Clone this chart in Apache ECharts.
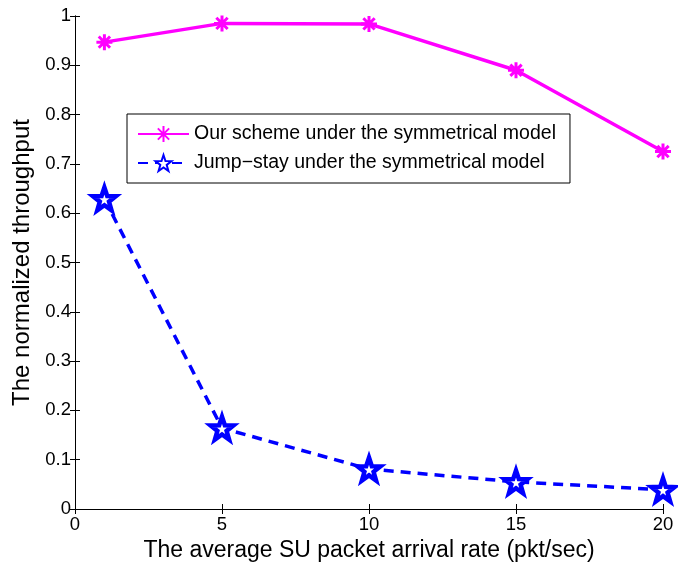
<!DOCTYPE html>
<html><head><meta charset="utf-8">
<script src="https://cdn.jsdelivr.net/npm/echarts@6/dist/echarts.min.js"></script>
<style>html,body{margin:0;padding:0;background:#fff}#c{width:678px;height:567px}</style>
</head><body><div id="c"></div>
<script>
const xValues = [1, 5, 10, 15, 20];
const ourScheme = [0.947, 0.985, 0.984, 0.890, 0.725];
const jumpStay = [0.629, 0.164, 0.081, 0.055, 0.039];
const seriesNames = ['Our scheme under the symmetrical model', 'Jump\u2212stay under the symmetrical model'];
const xTicks = [0, 5, 10, 15, 20];
const yTicks = [0, 0.1, 0.2, 0.3, 0.4, 0.5, 0.6, 0.7, 0.8, 0.9, 1];

const FONT = 'Liberation Sans';
const star = 'path://M0,-10 L2.35,-3.24 L9.51,-3.09 L3.8,1.24 L5.88,8.09 L0,4 L-5.88,8.09 L-3.8,1.24 L-9.51,-3.09 L-2.35,-3.24 Z';
const asterisk = 'path://M0,-10 L0,10 M-10,0 L10,0 M-7.07,-7.07 L7.07,7.07 M-7.07,7.07 L7.07,-7.07';

const chart = echarts.init(document.getElementById('c'), null, {renderer: 'canvas'});
const axisCommon = {
  axisLine: {show: true, lineStyle: {color: '#000', width: 1}},
  axisTick: {show: true, inside: true, length: 5, lineStyle: {color: '#000'}},
  splitLine: {show: false}
};
chart.setOption({
  animation: false,
  backgroundColor: '#fff',
  grid: {left: 75, right: 15, top: 16, bottom: 58},
  legend: {
    orient: 'vertical', left: 127, top: 114,
    backgroundColor: '#fff', borderColor: '#000', borderWidth: 1, borderRadius: 0,
    padding: [10, 14, 10, 10], itemWidth: 51, itemHeight: 20, itemGap: 9,
    textStyle: {fontFamily: FONT, fontSize: 19.5, color: '#000', padding: [0, 0, 0, 0]},
    data: seriesNames
  },
  xAxis: [
    Object.assign({type: 'value', min: 0, max: 20, interval: 5, position: 'bottom',
      name: 'The average SU packet arrival rate (pkt/sec)', nameLocation: 'middle', nameGap: 30,
      nameTextStyle: {fontFamily: FONT, fontSize: 23, color: '#000'},
      axisLabel: {fontFamily: FONT, fontSize: 18.5, color: '#000', margin: 6,
        formatter: v => xTicks.includes(v) ? String(v) : ''}}, axisCommon),
    Object.assign({type: 'value', min: 0, max: 20, interval: 5, position: 'top', axisLabel: {show: false}}, axisCommon)
  ],
  yAxis: [
    Object.assign({type: 'value', min: 0, max: 1, interval: 0.1, position: 'left',
      name: 'The normalized throughput', nameLocation: 'middle', nameGap: 39,
      nameTextStyle: {fontFamily: FONT, fontSize: 24, color: '#000'},
      axisLabel: {fontFamily: FONT, fontSize: 18.5, color: '#000', margin: 4,
        formatter: v => { const t = yTicks.find(y => Math.abs(y - v) < 1e-9); return t === undefined ? '' : String(t); }}}, axisCommon),
    Object.assign({type: 'value', min: 0, max: 1, interval: 0.1, position: 'right', axisLabel: {show: false}}, axisCommon)
  ],
  series: [
    {
      name: seriesNames[0], type: 'line', xAxisIndex: 0, yAxisIndex: 0,
      data: xValues.map((x, i) => [x, ourScheme[i]]),
      symbol: asterisk, symbolSize: 16,
      lineStyle: {color: '#ff00ff', width: 3.5},
      itemStyle: {color: '#ff00ff', borderColor: '#ff00ff', borderWidth: 3}
    },
    {
      name: seriesNames[1], type: 'line', xAxisIndex: 0, yAxisIndex: 0,
      data: xValues.map((x, i) => [x, jumpStay[i]]),
      symbol: star, symbolSize: 23,
      lineStyle: {color: '#0000ff', width: 3.5, type: [10, 7]},
      itemStyle: {color: '#ffffff', borderColor: '#0000ff', borderWidth: 4.5}
    }
  ]
});
</script></body></html>
